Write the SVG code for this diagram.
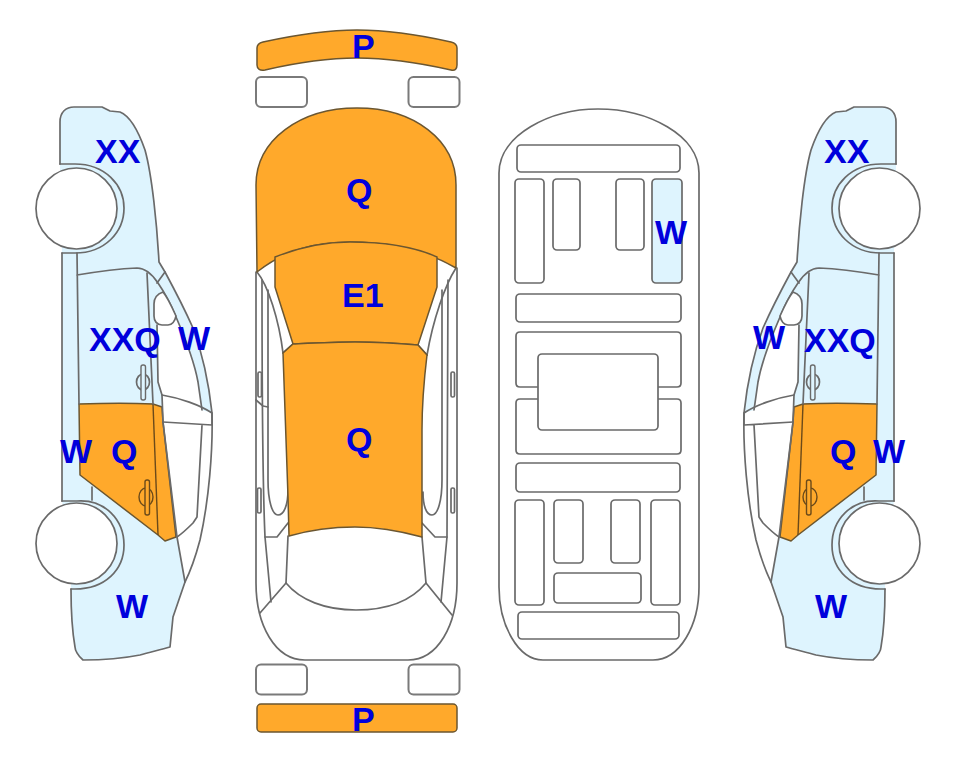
<svg xmlns="http://www.w3.org/2000/svg" xmlns:xlink="http://www.w3.org/1999/xlink" width="963" height="768" viewBox="0 0 963 768">
<style>
.ln{fill:none;stroke:#6a6a6a;stroke-width:1.7;stroke-linejoin:round;stroke-linecap:round}
.wh{fill:#fff;stroke:#6a6a6a;stroke-width:1.7}
.th{fill:#fff;stroke:#7a7a7a;stroke-width:2}
.pale{fill:#def4fe}
.pb{fill:#def4fe;stroke:#6a6a6a;stroke-width:1.7}
.or{fill:#ffa92b;stroke:#6b5630;stroke-width:1.5;stroke-linejoin:round}
.dk{fill:none;stroke:#6b4a1a;stroke-width:1.4}
text{font-family:"Liberation Sans",Arial,sans-serif;font-weight:700;font-size:34px;fill:#0000dc}
</style>
<defs>
<!-- side elevation of the car, drawn once and mirrored for the other side -->
<g id="side">
<path class="pale" d="M60,164 V122 C60,112 66,107 74,107 H102 L110,111 L120,112 C130,116 138,130 145,150 C152,175 157,225 159,262 L165,272 C172,285 185,310 193,328 C203,355 209,385 212,413 L177,537 L185,582 L173,617 L170,647 C160,650 150,652 140,655 C120,659 100,660 83,660 C78,656 75,650 75,647 C72,630 71,610 71,589 L71,545 L62,501 V253 Z"/>
<!-- glazing and the clear area behind the front door -->
<path fill="#fff" d="M157,325 H170 L176,317 C186,340 194,360 198,382 L202,410 L212,413 L212,470 C209,500 205,520 200,540 L185,582 L177,537 L163,422 L162,395 L158,382 Z"/>
<path class="or" d="M79,404 C105,403 135,403 153,404 L162,407 L163,422 L176,537 L165,541 L158,535 L80,475 Z"/>
<path class="dk" d="M153,404 L158,535"/>
<path class="ln" d="M60,164 V122 C60,112 66,107 74,107 H102 L110,111 L120,112 C130,116 138,130 145,150 C152,175 157,225 159,262 L165,272 C172,285 185,310 193,328 C203,355 209,385 212,413 C213,450 209,500 200,540 C196,555 190,572 185,582 L173,617 L170,647 C160,650 150,652 140,655 C120,659 100,660 83,660 C78,656 75,650 75,647 C72,630 71,610 71,589"/>
<path class="ln" d="M165,272 L157,283"/>
<path class="ln" d="M62,253 V501"/>
<path class="ln" d="M77,253 L79,404 M77,275 C95,272 115,269 137,268 C146,268 152,274 158,283 C165,293 171,305 176,317 C186,340 194,360 198,382 L202,410"/>
<path class="ln" d="M147,273 L152,382 L153,404"/>
<path class="ln" d="M157,325 L158,382 L162,395 L163,422 L177,537 L185,582"/>
<path class="ln" d="M162,395 C180,398 200,405 212,413 L212,425 L163,422 M202,425 L197,517 L193,523 C188,528 180,535 177,537"/>
<path class="ln" d="M92,487 V500"/>
<path class="ln" d="M60,164 H75 C105,164 124,185 124,208 C124,232 105,253 75,253 H62"/>
<path class="ln" d="M62,501 H77 C105,499 124,520 124,545 C124,570 105,589 75,589 H71"/>
<circle class="wh" cx="76.500" cy="208.500" r="40.500"/>
<circle class="wh" cx="76.500" cy="543.500" r="40.500"/>
<path class="wh" d="M163,292 C157,294 154,298 154,304 V316 C154,321 157,325 162,325 H168 C172,325 175,321 176,316 C172,307 168,298 163,292 Z"/>
<ellipse class="ln" cx="143" cy="382" rx="6.500" ry="8"/>
<rect x="141" y="365" width="4.500" height="35" rx="2" fill="#def4fe" stroke="#6a6a6a" stroke-width="1.400"/>
<ellipse class="dk" cx="146" cy="497" rx="7" ry="9"/>
<rect x="145" y="480" width="4.500" height="35" rx="2" fill="#ffa92b" stroke="#6b4a1a" stroke-width="1.400"/>
</g>
</defs>

<g id="side-left"><use xlink:href="#side" href="#side"/></g>
<g id="side-right"><use xlink:href="#side" href="#side" transform="translate(956 0) scale(-1 1)"/></g>

<g id="top-view">
<path class="or" d="M257,48 C257,45 259,43 263,42 C295,35 325,30 357,30 C390,30 420,35 451,42 C455,43 457,45 457,48 V65 C457,69 455,71 451,70 C420,63 390,58 357,58 C325,58 295,63 265,70 C260,71 257,69 257,65 Z"/>
<rect class="th" x="256" y="77" width="51" height="30" rx="5"/>
<rect class="th" x="408.500" y="77" width="51" height="30" rx="5"/>
<path class="ln" d="M256,272 V583 C256,625 275,660 305,660 H408 C438,660 457,625 457,583 V268"/>
<path class="ln" d="M262,280 C262,380 262,470 265,537 L271,602 M448,280 C448,380 448,470 447,537 L441,602"/>
<path class="ln" d="M257,272 C268,285 279,320 283,353 M456,268 C445,285 433,320 427,355"/>
<path class="ln" d="M268,290 V480 C268,500 272,515 278,515 C284,515 288,505 288,490 M442,290 V480 C442,500 438,515 432,515 C426,515 423,505 423,492"/>
<path class="ln" d="M256,400 L263,406 L268,407"/>
<rect class="ln" x="258" y="372" width="3.500" height="25" rx="1.500"/>
<rect class="ln" x="257.500" y="488" width="3.500" height="25" rx="1.500"/>
<rect class="ln" x="451" y="372" width="3.500" height="25" rx="1.500"/>
<rect class="ln" x="451" y="488" width="3.500" height="25" rx="1.500"/>
<path class="ln" d="M265,537 H277 L288,523 M447,537 H435 L422,523"/>
<path class="ln" d="M288,536 L286,583 C300,600 325,610 356,610 C388,610 412,600 426,583 L422,537"/>
<path class="ln" d="M286,583 L260,613 M426,583 L452,615 M283,353 L293,344 M427,355 L418,345"/>
<path class="or" d="M257,272 L256,185 C256,140 300,108 357,108 C414,108 456,140 456,185 L456,268 C425,250 390,242 350,242 C315,242 285,250 257,272 Z"/>
<path class="or" d="M275,257 C300,247 325,242 350,242 C385,242 415,247 437,257 V287 L418,345 C395,343 375,342 355,342 C335,342 315,343 293,344 L275,287 Z"/>
<path class="or" d="M293,344 C315,343 335,342 355,342 C375,342 395,343 418,345 L427,355 C424,380 422,410 422,430 L422,537 C400,531 380,527 355,527 C330,527 310,530 289,536 L288,497 L283,353 Z"/>
<rect class="or" x="257" y="704" width="200" height="28" rx="4"/>
<rect class="th" x="256" y="664.500" width="51" height="30" rx="5"/>
<rect class="th" x="408.500" y="664.500" width="51" height="30" rx="5"/>
</g>

<g id="underbody">
<path class="ln" d="M499,173 C499,135 550,109 598,109 C648,109 699,135 699,173 V587 C699,625 680,660 653,660 H543 C518,660 499,625 499,587 Z"/>
<g fill="none" stroke="#6a6a6a" stroke-width="1.700">
<rect x="517" y="145" width="163" height="27" rx="4"/>
<rect x="515" y="179" width="29" height="104" rx="4"/>
<rect x="553" y="179" width="27" height="71" rx="4"/>
<rect x="616" y="179" width="28" height="71" rx="4"/>
<rect class="pb" x="652" y="179" width="30" height="104" rx="4"/>
<rect x="516" y="294" width="165" height="28" rx="4"/>
<path d="M538,387 H520 Q516,387 516,383 V336 Q516,332 520,332 H677 Q681,332 681,336 V383 Q681,387 677,387 H658"/>
<path d="M538,399 H520 Q516,399 516,403 V450 Q516,454 520,454 H677 Q681,454 681,450 V403 Q681,399 677,399 H658"/>
<rect x="538" y="354" width="120" height="76" rx="4"/>
<rect x="516" y="463" width="164" height="29" rx="4"/>
<rect x="515" y="500" width="29" height="105" rx="4"/>
<rect x="554" y="500" width="29" height="63" rx="4"/>
<rect x="611" y="500" width="29" height="63" rx="4"/>
<rect x="651" y="500" width="29" height="105" rx="4"/>
<rect x="554" y="573" width="87" height="30" rx="4"/>
<rect x="518" y="612" width="161" height="27" rx="4"/>
</g>
</g>

<g id="labels">
<text x="95" y="163">XX</text>
<text x="89" y="351">XXQ</text>
<text x="178" y="350">W</text>
<text x="60" y="463">W</text>
<text x="111" y="463">Q</text>
<text x="116" y="618">W</text>
<text x="352" y="58">P</text>
<text x="346" y="202">Q</text>
<text x="342" y="307">E1</text>
<text x="346" y="451">Q</text>
<text x="352" y="731">P</text>
<text x="655" y="244">W</text>
<text x="824" y="163">XX</text>
<text x="753" y="349">W</text>
<text x="804" y="352">XXQ</text>
<text x="830" y="463">Q</text>
<text x="873" y="463">W</text>
<text x="815" y="618">W</text>
</g>
</svg>
